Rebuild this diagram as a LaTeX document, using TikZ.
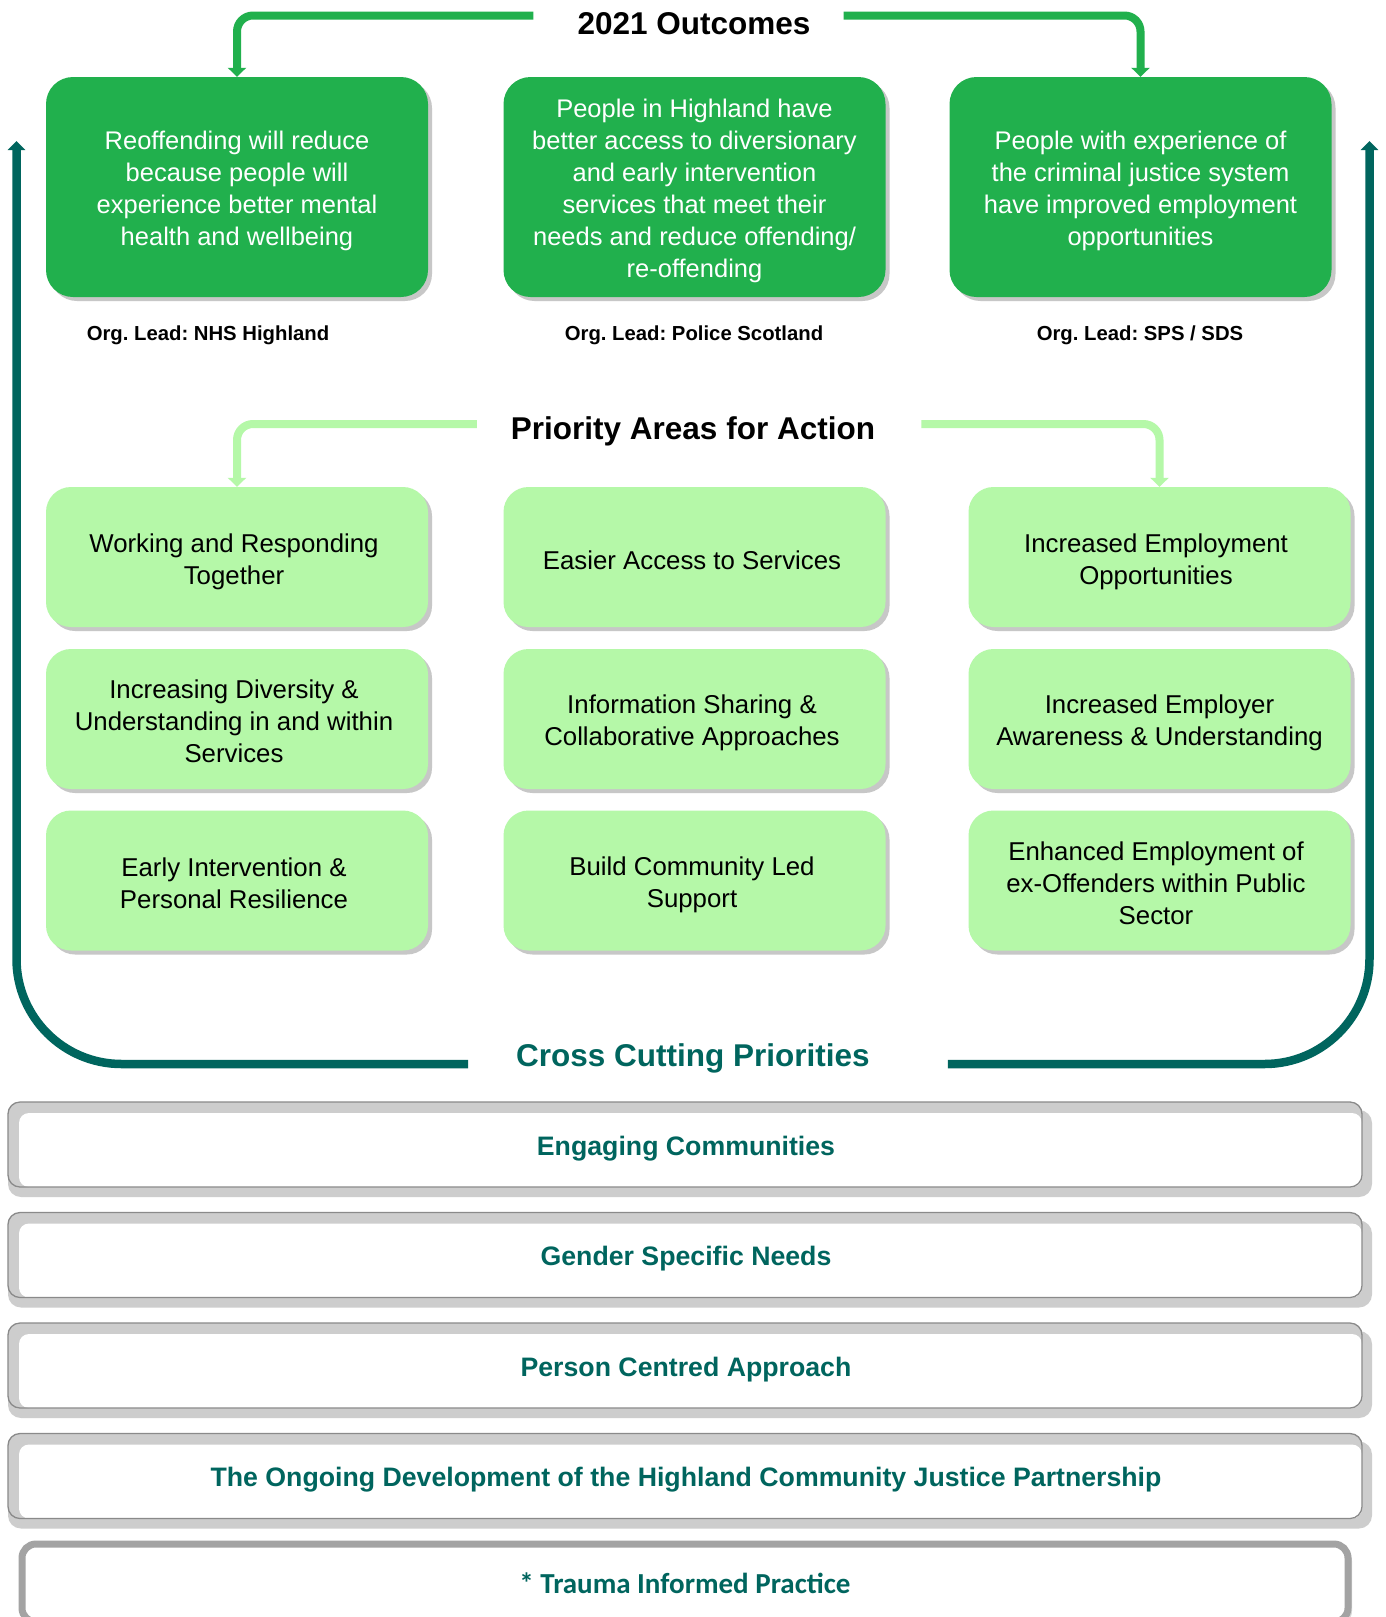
\documentclass[tikz,border=0pt]{standalone}
\usepackage{fontspec}
\setmainfont{Liberation Sans}
\newfontfamily\calibfont{Carlito}
\usetikzlibrary{shadows,arrows.meta}
\frenchspacing
\definecolor{dkgreen}{RGB}{33,176,77}
\definecolor{ltgreen}{RGB}{181,248,168}
\definecolor{tealc}{RGB}{0,101,94}
\definecolor{ccgrey}{RGB}{205,205,205}
\definecolor{ccdark}{RGB}{138,138,138}
\definecolor{trgrey}{RGB}{163,163,163}
\tikzset{
  outbox/.style={rectangle, rounded corners=27pt, fill=dkgreen,
    minimum width=382pt, minimum height=220pt, inner sep=0pt,
    drop shadow={shadow xshift=4pt, shadow yshift=-4pt, fill=black!22, opacity=1}},
  outtext/.style={text=white, inner sep=0pt, align=center,
    font=\fontsize{25.5}{32}\selectfont},
  pribox/.style={rectangle, rounded corners=25pt, fill=ltgreen,
    minimum width=382pt, minimum height=140pt, inner sep=0pt,
    drop shadow={shadow xshift=4pt, shadow yshift=-4pt, fill=black!22, opacity=1}},
  pritext/.style={text=black, inner sep=0pt, align=center,
    font=\fontsize{25.8}{32}\selectfont},
  titletext/.style={font=\fontsize{31.5}{36}\selectfont\bfseries, inner sep=0pt, anchor=base},
  leadtext/.style={font=\fontsize{20.3}{24}\selectfont\bfseries, inner sep=0pt},
  garrow/.style={draw=dkgreen, line width=8pt, rounded corners=16pt,
    -{Triangle[width=18pt,length=9pt]}},
  larrow/.style={draw=ltgreen, line width=8pt, rounded corners=16pt,
    -{Triangle[width=18pt,length=9pt]}},
  tarrow/.style={draw=tealc, line width=8.5pt, rounded corners=105pt,
    -{Triangle[width=17pt,length=9pt]}},
  cctext/.style={inner sep=0pt, text=tealc, font=\fontsize{26.7}{30}\selectfont\bfseries},
  trauma/.style={rectangle, rounded corners=14pt, fill=white, draw=trgrey,
    line width=7pt, minimum width=1326pt, minimum height=78pt, inner sep=0pt,
    text=tealc, font=\fontsize{29}{34}\selectfont\calibfont\bfseries,
    drop shadow={shadow xshift=4pt, shadow yshift=-3pt, fill=black!15, opacity=1}}
}
\newcommand\ccbox[3]{%
  \fill[ccgrey, rounded corners=13pt] (8,#2+8) rectangle (1372,#2+95);
  \fill[ccgrey, rounded corners=12pt] (8,#2) rectangle (1362,#2+85);
  \fill[white, rounded corners=10pt] (19,#2+11) rectangle (1362,#2+85);
  \draw[ccdark, line width=1.3pt, rounded corners=12pt] (8,#2) rectangle (1362,#2+85);
  \node[cctext] (#1) at (686,#2+46.5) {#3};
}
\begin{document}
\begin{tikzpicture}[x=1pt,y=-1pt]
\useasboundingbox[fill=white] (0,0) rectangle (1386,1617);

% 2021 Outcomes
\node[titletext] (t1) at (694,34) {2021 Outcomes};
\node[outbox] (o1) at (237,187) {};
\node[outbox] (o2) at (694.5,187) {};
\node[outbox] (o3) at (1140.5,187) {};
\node[outtext] (o1t) at (237,191) {Reoffending will reduce\\because people will\\experience better mental\\health and wellbeing};
\node[outtext] (o2t) at (694.5,191) {People in Highland have\\better access to diversionary\\and early intervention\\services that meet their\\needs and reduce offending/\\re-offending};
\node[outtext] (o3t) at (1140.5,191) {People with experience of\\the criminal justice system\\have improved employment\\opportunities};
\draw[garrow] ([xshift=-44pt,yshift=18.5pt]t1.base west) -| (o1.north);
\draw[garrow] ([xshift=33pt,yshift=18.5pt]t1.base east) -| (o3.north);

\node[leadtext] (l1) at (208,335) {Org. Lead: NHS Highland};
\node[leadtext] (l2) at (694,335) {Org. Lead: Police Scotland};
\node[leadtext] (l3) at (1140,335) {Org. Lead: SPS / SDS};

% Priority Areas
\node[titletext] (t2) at (693,439) {Priority Areas for Action};
\foreach \nm/\cx/\cy in {p11/237/557, p12/694.5/557, p13/1159.5/557,
  p21/237/719, p22/694.5/719, p23/1159.5/719,
  p31/237/880.5, p32/694.5/880.5, p33/1159.5/880.5}
  \node[pribox] (\nm) at (\cx,\cy) {};
\node[pritext] (p11t) at (234,562) {Working and Responding\\Together};
\node[pritext] (p12t) at (692,560) {Easier Access to Services};
\node[pritext] (p13t) at (1156,562) {Increased Employment\\Opportunities};
\node[pritext] (p21t) at (234,721.5) {Increasing Diversity \&\\Understanding in and within\\Services};
\node[pritext] (p22t) at (692,723) {Information Sharing \&\\Collaborative Approaches};
\node[pritext] (p23t) at (1159.5,723) {Increased Employer\\Awareness \& Understanding};
\node[pritext] (p31t) at (234,883) {Early Intervention \&\\Personal Resilience};
\node[pritext] (p32t) at (692,884.5) {Build Community Led\\Support};
\node[pritext] (p33t) at (1156,883) {Enhanced Employment of\\ex-Offenders within Public\\Sector};
\draw[larrow] ([xshift=-34pt,yshift=15pt]t2.base west) -| (p11.north);
\draw[larrow] ([xshift=46pt,yshift=15pt]t2.base east) -| (p13.north);

% Cross cutting
\node[titletext, text=tealc] (c1) at (693,1066) {Cross Cutting Priorities};
\coordinate (bl) at (16.5,1064);
\coordinate (tl) at (16.5,141);
\coordinate (br) at (1369.5,1064);
\coordinate (tr) at (1369.5,141);
\draw[tarrow] ([xshift=-48pt,yshift=2pt]c1.base west) -- (bl) -- (tl);
\draw[tarrow] ([xshift=78pt,yshift=2pt]c1.base east) -- (br) -- (tr);

\ccbox{cc1}{1102}{Engaging Communities}
\ccbox{cc2}{1212.5}{Gender Specific Needs}
\ccbox{cc3}{1323}{Person Centred Approach}
\ccbox{cc4}{1433.5}{The Ongoing Development of the Highland Community Justice Partnership}
\node[trauma] (cc5) at (685,1583) {* Trauma Informed Practice};
\end{tikzpicture}
\end{document}
